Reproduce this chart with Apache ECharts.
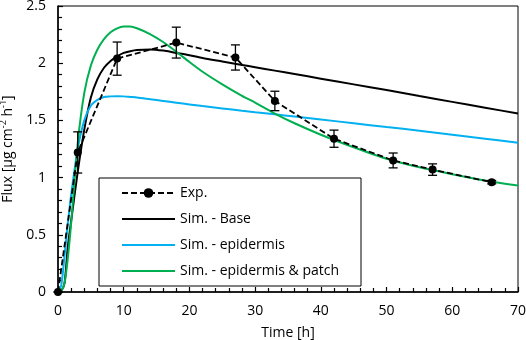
<!DOCTYPE html>
<html>
<head>
<meta charset="utf-8">
<script src="https://cdn.jsdelivr.net/npm/echarts@6/dist/echarts.min.js"></script>
<style>
  html, body { margin: 0; padding: 0; background: #fff; }
  #chart { width: 526px; height: 340px; }
</style>
</head>
<body>
<div id="chart"></div>
<script>
// experimental points
const expTime = [0, 3, 9, 18, 27, 33, 42, 51, 57, 66];
const expFlux = [0, 1.22, 2.04, 2.18, 2.05, 1.67, 1.34, 1.15, 1.07, 0.96];
const expErr = [0, 0.18, 0.145, 0.135, 0.11, 0.085, 0.075, 0.065, 0.05, 0.015];

// simulations
const simTime = [0, 0.5, 1, 1.5, 2, 3, 4, 5, 6, 7, 8, 9, 10, 11, 12, 14, 16, 18, 20, 22, 25, 28, 30, 33, 36, 40, 45, 50, 55, 60, 65, 70];
const simBase = [0, 0.01, 0.08, 0.4, 0.62, 1.05, 1.42, 1.7, 1.86, 1.96, 2.02, 2.06, 2.09, 2.105, 2.115, 2.12, 2.11, 2.09, 2.07, 2.045, 2.015, 1.985, 1.965, 1.935, 1.905, 1.865, 1.815, 1.765, 1.713, 1.662, 1.611, 1.56];
const simEpi = [0, 0.06, 0.32, 0.6, 0.85, 1.25, 1.5, 1.63, 1.68, 1.705, 1.71, 1.712, 1.71, 1.705, 1.7, 1.685, 1.67, 1.655, 1.64, 1.625, 1.605, 1.585, 1.572, 1.553, 1.534, 1.508, 1.475, 1.442, 1.41, 1.375, 1.34, 1.305];
const simEpiPatch = [0, 0.01, 0.08, 0.3, 0.6, 1.3, 1.74, 1.98, 2.12, 2.21, 2.27, 2.305, 2.32, 2.32, 2.305, 2.255, 2.185, 2.1, 2.01, 1.925, 1.815, 1.715, 1.655, 1.56, 1.475, 1.375, 1.265, 1.165, 1.09, 1.03, 0.975, 0.93];

const seriesNames = ["Exp.", "Sim. - Base", "Sim. - epidermis", "Sim. - epidermis & patch"];

const font = "Open Sans";
const pair = (xs, ys) => xs.map((x, i) => [x, ys[i]]);
const noMarker = { color: "rgba(0,0,0,0)", borderWidth: 0 };

const simLine = (name, ys, color) => ({
  name: name,
  type: "line",
  data: pair(simTime, ys),
  showSymbol: false,
  symbol: "none",
  smooth: 0.25,
  itemStyle: { color: color },
  lineStyle: { color: color, width: 2 },
  z: 2,
});

const chart = echarts.init(document.getElementById("chart"));

chart.setOption({
  animation: false,
  grid: {
    left: 58,
    right: 8,
    top: 6,
    bottom: 48,
    outerBoundsMode: "none",
    containLabel: false,
    show: true,
    borderColor: "#000",
    borderWidth: 1,
  },
  legend: {
    data: [
      { name: seriesNames[0] },
      { name: seriesNames[1], itemStyle: noMarker },
      { name: seriesNames[2], itemStyle: noMarker },
      { name: seriesNames[3], itemStyle: noMarker },
    ],
    orient: "vertical",
    left: 99,
    top: 178,
    itemWidth: 53,
    itemHeight: 12,
    itemGap: 12,
    padding: [8, 22, 8, 22],
    borderColor: "#000",
    borderWidth: 1,
    backgroundColor: "#fff",
    textStyle: { fontFamily: font, fontSize: 14, color: "#000" },
  },
  xAxis: {
    type: "value",
    min: 0,
    max: 70,
    interval: 10,
    name: "Time [h]",
    nameLocation: "middle",
    nameGap: 34,
    nameTextStyle: { fontFamily: font, fontSize: 14, color: "#000" },
    axisLine: { onZero: false, lineStyle: { color: "#000", width: 1.5 } },
    axisTick: { inside: true, length: 5, lineStyle: { color: "#000", width: 1.2 } },
    minorTick: { show: true, splitNumber: 5, length: 4, lineStyle: { color: "#000", width: 1.2 } },
    axisLabel: { margin: 12, fontFamily: font, fontSize: 14, color: "#000" },
    splitLine: { show: false },
  },
  yAxis: {
    type: "value",
    min: 0,
    max: 2.5,
    interval: 0.5,
    name: "{t|Flux [µg cm}{s|-2}{t| h}{s|-1}{t|]}",
    nameLocation: "middle",
    nameGap: 37,
    nameTextStyle: {
      rich: {
        t: { fontFamily: font, fontSize: 14, color: "#000", lineHeight: 18 },
        s: { fontFamily: font, fontSize: 9, color: "#000", verticalAlign: "top", lineHeight: 18 },
      },
    },
    axisLine: { onZero: false, lineStyle: { color: "#000", width: 1.5 } },
    axisTick: { inside: true, length: 5, lineStyle: { color: "#000", width: 1.2 } },
    minorTick: { show: true, splitNumber: 5, length: 4, lineStyle: { color: "#000", width: 1.2 } },
    axisLabel: { margin: 12, fontFamily: font, fontSize: 14, color: "#000" },
    splitLine: { show: false },
  },
  series: [
    {
      name: seriesNames[0],
      type: "line",
      data: pair(expTime, expFlux),
      symbol: "circle",
      symbolSize: 8,
      itemStyle: { color: "#000" },
      lineStyle: { color: "#000", width: 1.8, type: [6, 3] },
      z: 3,
    },
    {
      name: "err",
      type: "custom",
      data: expTime.map((t, i) => [t, expFlux[i] - expErr[i], expFlux[i] + expErr[i]]),
      renderItem: (params, api) => {
        const lo = api.coord([api.value(0), api.value(1)]);
        const hi = api.coord([api.value(0), api.value(2)]);
        const w = 4.5;
        const st = { stroke: "#000", lineWidth: 1.3 };
        return {
          type: "group",
          children: [
            { type: "line", shape: { x1: lo[0], y1: lo[1], x2: hi[0], y2: hi[1] }, style: st },
            { type: "line", shape: { x1: lo[0] - w, y1: lo[1], x2: lo[0] + w, y2: lo[1] }, style: st },
            { type: "line", shape: { x1: hi[0] - w, y1: hi[1], x2: hi[0] + w, y2: hi[1] }, style: st },
          ],
        };
      },
      z: 4,
    },
    simLine(seriesNames[1], simBase, "#000"),
    simLine(seriesNames[2], simEpi, "#00B0F0"),
    simLine(seriesNames[3], simEpiPatch, "#00B050"),
  ],
});
</script>
</body>
</html>
